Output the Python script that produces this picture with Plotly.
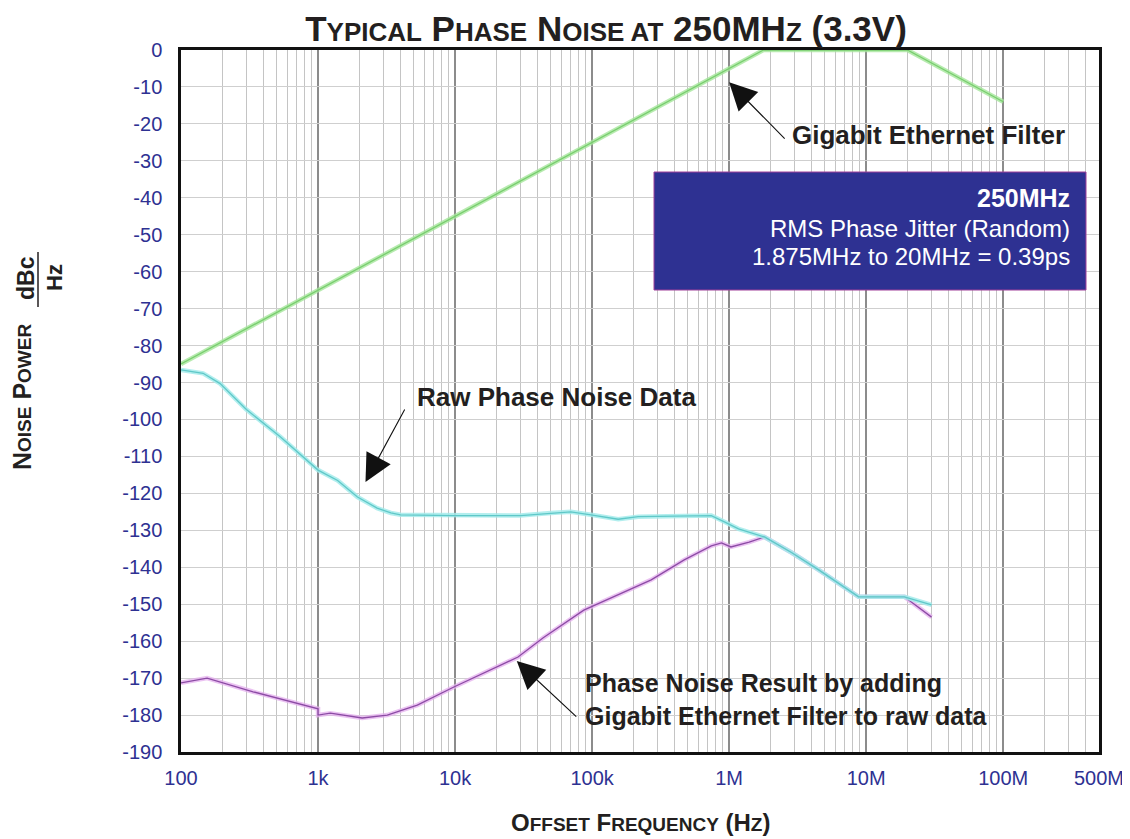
import math
import plotly.graph_objects as go

# ---------------- data ----------------
filter_freq = [100, 1.78e6, 2.0e7, 1.0e8]
filter_db = [-85, 0, 0, -14]

raw_freq = [100, 145, 193, 300, 530, 800, 1000, 1390, 1940, 2700, 3400, 4000, 10000,
            30000, 50000, 70000, 98000, 155000, 217000, 500000, 741000, 923000,
            1.17e6, 1.81e6, 2.85e6, 4.5e6, 8.8e6, 1.9e7, 3.0e7]
raw_db = [-86.6, -87.5, -90.3, -97.3, -104.7, -110.5, -113.7, -116.5, -121, -124, -125.3, -125.8, -126,
          -126, -125.3, -125, -125.8, -127, -126.3, -126, -126, -127.7,
          -129.6, -131.8, -136, -140.7, -148, -148, -150.2]

res_freq = [100, 155, 336, 879, 1000, 1000, 1230, 2100, 3200, 5300, 9800, 28800, 44000,
            87000, 270000, 470000, 741000, 880000, 1.03e6, 1.4e6, 1.81e6,
            2.85e6, 4.5e6, 8.8e6, 1.9e7, 3.0e7]
res_db = [-171.3, -170, -173.7, -177.8, -178.3, -180, -179.5, -180.8, -180, -177.3, -172.4, -164.3, -159.1,
          -151.6, -143.4, -138, -134.2, -133.4, -134.5, -133.2, -131.8,
          -136, -140.7, -148, -148, -153.5]

x_tickvals = [100, 1e3, 1e4, 1e5, 1e6, 1e7, 1e8, 5e8]
x_ticktext = ["100", "1k", "10k", "100k", "1M", "10M", "100M", "500M"]
y_tickvals = list(range(0, -200, -10))
y_ticktext = [str(v) for v in y_tickvals]

BLUE = "#2e3192"
DARK = "#231f20"
FONT = "Liberation Sans, Arial, sans-serif"

# page has an 8px body margin: figure is placed at (8, 8)
OFF = 8
FIG_W, FIG_H = 1130 - OFF, 839 - OFF
PL, PR, PT, PB = 181, 1099, 50, 752          # plot box in page pixels
PW, PH = PR - PL, PB - PT

def px2paper(px, py):
    return (px - PL) / PW, (PB - py) / PH

fig = go.Figure()

def glow_line(x, y, outer, inner, w_out, w_in):
    fig.add_trace(go.Scatter(x=x, y=y, mode="lines", line=dict(color=outer, width=w_out),
                             hoverinfo="skip", showlegend=False))
    fig.add_trace(go.Scatter(x=x, y=y, mode="lines", line=dict(color=inner, width=w_in),
                             showlegend=False))

glow_line(filter_freq, filter_db, "rgba(165,230,155,0.8)", "rgb(120,205,110)", 4.5, 1.3)
glow_line(res_freq, res_db, "rgba(228,175,238,0.75)", "rgb(140,75,165)", 4.5, 1.3)
glow_line(raw_freq, raw_db, "rgba(165,235,235,0.85)", "rgb(95,200,200)", 4.5, 1.3)

S = "<span style='font-size:26px'>"
title_html = (f"T{S}YPICAL</span> P{S}HASE</span> N{S}OISE AT</span> 250MH{S}Z</span> (3.3V)")

fig.update_layout(
    width=FIG_W, height=FIG_H,
    margin=dict(l=PL - OFF, r=FIG_W - (PR - OFF), t=PT - OFF, b=FIG_H - (PB - OFF), autoexpand=False),
    paper_bgcolor="white", plot_bgcolor="white",
    title=dict(text="<b>" + title_html + "</b>", x=(606 - OFF) / FIG_W, xanchor="center",
               y=1 - (28.5 - OFF) / FIG_H, yanchor="middle", automargin=False,
               font=dict(family=FONT, size=35, color=DARK)),
    xaxis=dict(type="log", range=[2, 8.69897], tickvals=x_tickvals, ticktext=x_ticktext,
               tickfont=dict(family=FONT, size=20, color=BLUE), ticks="", ticklabelstandoff=6,
               automargin=False, ticklabeloverflow="allow",
               showgrid=True, gridcolor="#8c8c8c", gridwidth=1.5,
               minor=dict(showgrid=True, gridcolor="#c4c4c4", gridwidth=1, dtick="D1", ticks=""),
               showline=True, linecolor="#111", linewidth=2.5, mirror=True, zeroline=False),
    yaxis=dict(range=[-190, 0], tickvals=y_tickvals, ticktext=y_ticktext,
               tickfont=dict(family=FONT, size=20, color=BLUE), ticks="", ticklabelstandoff=12,
               automargin=False,
               showgrid=True, gridcolor="#cfcfcf", gridwidth=1,
               showline=True, linecolor="#111", linewidth=2.5, mirror=True, zeroline=False),
)

# text labels (positions in page pixels)
labels = [("<b>Gigabit Ethernet Filter</b>", 790, 135, 26),
          ("<b>Raw Phase Noise Data</b>", 415, 397, 26),
          ("<b>Phase Noise Result by adding<br>Gigabit Ethernet Filter to raw data</b>", 583, 699, 25)]
for txt, px, py, sz in labels:
    xx, yy = px2paper(px, py)
    fig.add_annotation(x=xx, y=yy, xref="paper", yref="paper", text=txt, showarrow=False,
                       xanchor="left", yanchor="middle", align="left",
                       font=dict(family=FONT, size=sz, color=DARK))

# arrows (head at data point, tail offset in px)
for hx, hy, ax, ay in [(1.0e6, -8.7, 57, 58), (2220, -116.9, 40, -74), (28200, -165.4, 61, 57)]:
    fig.add_annotation(x=math.log10(hx), y=hy, xref="x", yref="y", text="", showarrow=True, ax=ax, ay=ay,
                       arrowhead=2, arrowsize=5, arrowwidth=1.1, arrowcolor="#111",
                       standoff=0, startstandoff=0)

# info box
bx0, by0 = px2paper(654, 290)
bx1, by1 = px2paper(1086, 172)
fig.add_shape(type="rect", xref="paper", yref="paper", x0=bx0, x1=bx1, y0=by0, y1=by1,
              fillcolor=BLUE, line=dict(color="#a0409a", width=1))
box_lines = [("<b>250MHz</b>", 198, 25), ("RMS Phase Jitter (Random)", 229, 24),
             ("1.875MHz to 20MHz = 0.39ps", 257, 24)]
for txt, py, sz in box_lines:
    xx, yy = px2paper(1072, py)
    fig.add_annotation(x=xx, y=yy, xref="paper", yref="paper", text=txt, showarrow=False,
                       xanchor="right", yanchor="middle", font=dict(family=FONT, size=sz, color="white"))

# x axis title
tx, ty = px2paper(640, 822)
s = "<span style='font-size:19px'>"
fig.add_annotation(x=tx, y=ty, xref="paper", yref="paper", xanchor="center", yanchor="middle",
                   text=f"<b>O{s}FFSET</span> F{s}REQUENCY</span> (H{s}Z</span>)</b>",
                   showarrow=False, font=dict(family=FONT, size=24, color=DARK))

# y axis title (rotated)
nx, ny = px2paper(22, 397)
fig.add_annotation(x=nx, y=ny, xref="paper", yref="paper", showarrow=False, textangle=-90,
                   xanchor="center", yanchor="middle",
                   text=f"<b>N{s}OISE</span> P{s}OWER</span></b>",
                   font=dict(family=FONT, size=25, color=DARK))
dx, dy = px2paper(26, 278)
fig.add_annotation(x=dx, y=dy, xref="paper", yref="paper", showarrow=False, textangle=-90,
                   xanchor="center", yanchor="middle",
                   text="<b>dBc</b>", font=dict(family=FONT, size=23, color=DARK))
hx_, hy_ = px2paper(54, 278)
fig.add_annotation(x=hx_, y=hy_, xref="paper", yref="paper", showarrow=False, textangle=-90,
                   xanchor="center", yanchor="middle",
                   text="<b>Hz</b>", font=dict(family=FONT, size=22, color=DARK))
l0 = px2paper(38, 252)
l1 = px2paper(38, 307)
fig.add_shape(type="line", xref="paper", yref="paper", x0=l0[0], x1=l1[0], y0=l0[1], y1=l1[1],
              line=dict(color=DARK, width=1.5))

fig.write_html("out.html")
